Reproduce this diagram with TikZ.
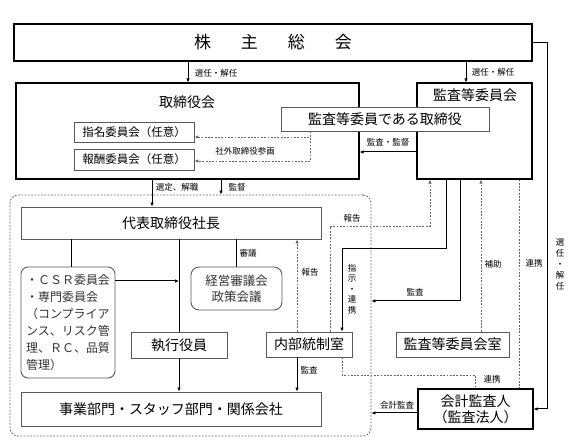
\documentclass[tikz,border=0pt]{standalone}
\usepackage{fontspec}
\newfontfamily\jp{Noto Sans CJK JP}
\usetikzlibrary{arrows.meta}
\begin{document}
\begin{tikzpicture}[x=1pt,y=-1pt,
  mainbox/.style={draw=black,line width=1.2pt,inner sep=0pt,font=\jp\fontsize{14}{16}\selectfont},
  subbox/.style={draw=black!65,line width=0.9pt,fill=white,inner sep=0pt,font=\jp\fontsize{14}{16}\selectfont},
  smallbox/.style={subbox,font=\jp\fontsize{11.5}{14}\selectfont},
  ttl/.style={inner sep=0pt,font=\jp\fontsize{14}{16}\selectfont},
  lbl/.style={inner sep=0pt,font=\jp\fontsize{8.5}{11}\selectfont},
  solidline/.style={line width=1pt},
  conn/.style={line width=1pt,-{Latex[length=4pt,width=3.5pt]}},
  dots/.style={draw=black!60,line width=0.8pt,dash pattern=on 1.8pt off 1.5pt},
  dotarr/.style={dots,-{Latex[length=4pt,width=3.5pt]}}]
\useasboundingbox (0,0) rectangle (576,443);
\node[mainbox,minimum width=518pt,minimum height=37pt] (sh) at (273,42.5) {\fontsize{17}{20}\selectfont 株\hspace{30pt}主\hspace{30pt}総\hspace{30pt}会};
\node[mainbox,minimum width=343pt,minimum height=96pt] (bd) at (187.5,131) {};
\node[ttl] (bdt) at (187,102) {取締役会};
\node[mainbox,minimum width=115pt,minimum height=96pt] (ac) at (474.5,131) {};
\node[ttl] (act) at (475,95) {監査等委員会};
\node[subbox,minimum width=208pt,minimum height=24pt] (acd) at (385,119) {監査等委員である取締役};
\node[smallbox,minimum width=120pt,minimum height=20pt] (nom) at (134,132) {指名委員会（任意）};
\node[smallbox,minimum width=120pt,minimum height=21pt] (rem) at (134,159.5) {報酬委員会（任意）};
\node[dots,rounded corners=8pt,inner sep=0pt,minimum width=361pt,minimum height=241pt] (grp) at (190.5,315.5) {};
\node[subbox,minimum width=300pt,minimum height=32pt] (ceo) at (171,223) {代表取締役社長};
\node[subbox,rounded corners=7pt,minimum width=94pt,minimum height=111pt,align=left,text=black!80,font=\jp\fontsize{12}{17}\selectfont] (csr) at (68,322.5) {・ＣＳＲ委員会\\・専門委員会\\（コンプライア\\ンス、リスク管\\理、ＲＣ、品質\\管理）};
\node[subbox,rounded corners=8pt,minimum width=91pt,minimum height=43pt,align=center,text=black!80,font=\jp\fontsize{12.5}{16}\selectfont] (mgt) at (236.5,288.5) {経営審議会\\政策会議};
\node[subbox,minimum width=96pt,minimum height=26pt] (exe) at (179,345) {執行役員};
\node[subbox,minimum width=86pt,minimum height=25pt] (ic) at (309,344.5) {内部統制室};
\node[subbox,minimum width=113pt,minimum height=25pt] (acs) at (452.5,344.5) {監査等委員会室};
\node[subbox,minimum width=300pt,minimum height=34pt] (biz) at (171,409) {事業部門・スタッフ部門・関係会社};
\node[mainbox,minimum width=115pt,minimum height=40pt,align=center] (ea) at (475.5,409) {会計監査人\\（監査法人）};
\draw[conn] (sh.south -| 188,0) -- (bd.north -| 188,0);
\draw[conn] (sh.south -| 466,0) -- (ac.north -| 466,0);
\draw[conn] (sh.east) -- ++(15,0) |- (ea.east);
\draw[conn] (ac.west |- 0,152) -- (bd.east |- 0,152);
\draw[dotarr] (acd.south -| 310,0) |- (rem.east |- 0,161);
\draw[dotarr] (acd.south -| 310,0) |- (nom.east |- 0,137);
\draw[conn] (bd.south -| 152,0) -- (ceo.north -| 152,0);
\draw[conn] (bd.south -| 221,0) -- (grp.north -| 221,0);
\draw[solidline] (ceo.south -| 71,0) -- (csr.north -| 71,0);
\draw[solidline] (ceo.south -| exe.north) -- (exe.north);
\draw[conn] (exe.south) -- (biz.north -| exe.south);
\draw[conn] (csr.east |- 0,281) -- (exe.north |- 0,281);
\draw[solidline] (ceo.south -| mgt.north) -- (mgt.north);
\draw[dotarr] (ic.north -| 297,0) -- (ceo.south -| 297,0);
\draw[conn] (ic.south -| 297,0) -- (biz.north -| 297,0);
\draw[dotarr] (ic.north -| 330,0) |- (430,226) -- (ac.south -| 430,0);
\draw[conn] (ac.south -| 446,0) |- (342,249) -- (ic.north -| 342,0);
\draw[conn] (ac.south -| 460,0) |- (grp.east |- 0,301);
\draw[dotarr] (acs.north -| 481,0) -- (ac.south -| 481,0);
\draw[dots] (ac.south -| 519,0) -- (ea.north -| 519,0);
\draw[dots] (ic.south -| 342,0) |- (ea.north |- 0,375) -- (ea.north);
\draw[conn] (ea.west |- 0,413) -- (grp.east |- 0,413);
\node[lbl] (l1) at (216,73) {選任・解任};
\node[lbl] (l2) at (493,72) {選任・解任};
\node[lbl] (l3) at (388,142) {監査・監督};
\node[lbl] (l4) at (245,151) {社外取締役参画};
\node[lbl] (l5) at (177,187) {選定、解職};
\node[lbl] (l6) at (237,187) {監督};
\node[lbl] (l7) at (248,253) {審議};
\node[lbl] (l8) at (352,218) {報告};
\node[lbl] (l9) at (310,272) {報告};
\node[lbl,align=center,font=\jp\fontsize{8.5}{10.5}\selectfont] (l10) at (352,289) {指\\示\\・\\連\\携};
\node[lbl] (l11) at (415,292) {監査};
\node[lbl] (l12) at (493,264) {補助};
\node[lbl] (l13) at (534,263) {連携};
\node[lbl,align=center] (l14) at (560,264) {選\\任\\・\\解\\任};
\node[lbl] (l15) at (309,370) {監査};
\node[lbl] (l16) at (492,379) {連携};
\node[lbl] (l17) at (397,405) {会計監査};
\end{tikzpicture}
\end{document}
